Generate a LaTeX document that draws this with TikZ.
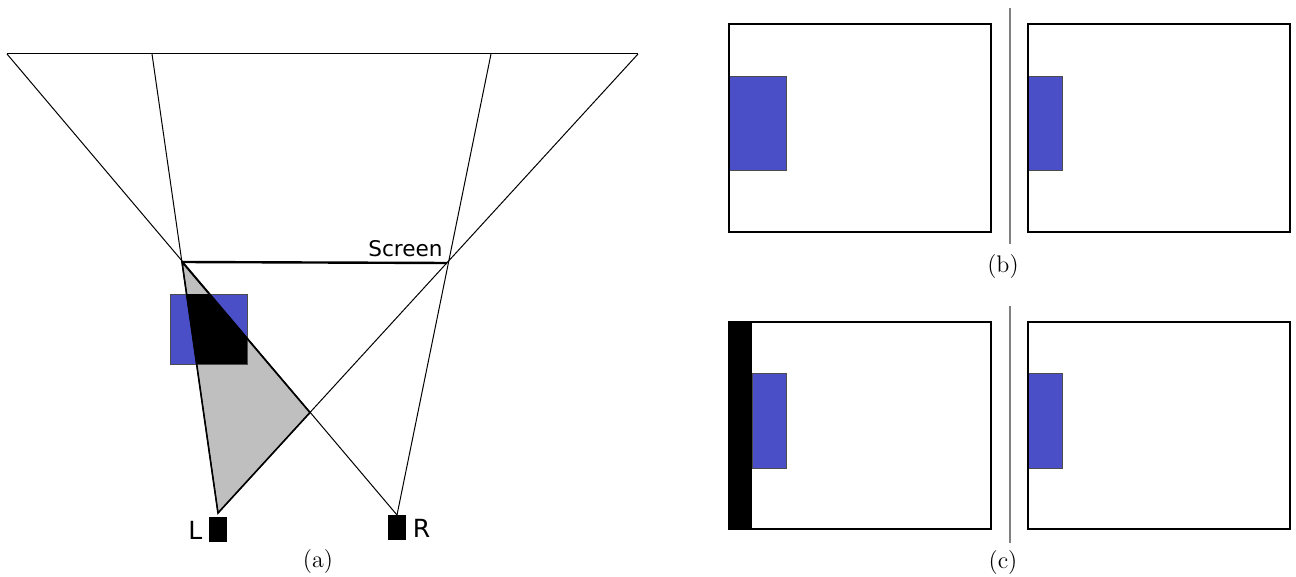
\documentclass[tikz,border=0pt]{standalone}
\usepackage{fontspec}
\newfontfamily\labelfont{DejaVu Sans}
\usetikzlibrary{positioning}
\definecolor{objblue}{RGB}{74,79,199}

\begin{document}
\begin{tikzpicture}[x=0.5pt, y=-0.5pt,
    ray/.style={black, line width=0.5pt},
    frame/.style={draw=black, line width=1pt},
    obj/.style={fill=objblue, draw=black!70, line width=0.4pt},
    eye/.style={fill=black, minimum width=9pt, minimum height=12.5pt, inner sep=0pt},
    eyelabel/.style={inner sep=0pt, font=\labelfont\fontsize{12.5}{15}\selectfont},
    caption/.style={font=\rmfamily\large},
    every node/.style={font=\labelfont\fontsize{10.8}{13}\selectfont}]
    \useasboundingbox (0,0) rectangle (1296,577);

    % Sichtkegel der beiden Augen
    \coordinate (TL) at (7,54);
    \coordinate (IL) at (152,54);
    \coordinate (IR) at (491,54);
    \coordinate (TR) at (638,54);
    \coordinate (SL) at (182,262);
    \coordinate (SR) at (447,263);
    \coordinate (L) at (218,513);
    \coordinate (R) at (397,515);
    \coordinate (X) at (intersection of L--SR and R--SL);

    % Bereich vor dem Screen
    \fill[gray!50] (SL) -- (X) -- (L) -- cycle;

    % Objekt
    \filldraw[obj] (170,294) rectangle (247,364);
    \begin{scope}
        \clip (SL) -- (X) -- (L) -- cycle;
        \fill (170,294) rectangle (247,364);
    \end{scope}

    % Strahlen
    \draw[ray] (TL) -- (TR);
    \draw[ray] (TL) -- (R);
    \draw[ray] (TR) -- (L);
    \draw[ray] (IL) -- (L);
    \draw[ray] (IR) -- (R);
    \draw[line width=0.8pt] (SL) -- (X) -- (L) -- cycle;

    % Screen
    \draw[line width=1.2pt] (SL) -- (SR);
    \node[anchor=base east, inner sep=0pt] (screen) at (443,257) {Screen};

    % Augen
    \node[eye, anchor=north] (eyeL) at (218,517) {};
    \node[eye, anchor=north] (eyeR) at (397,515) {};
    \node[eyelabel, left=3pt of eyeL] (labL) {L};
    \node[eyelabel, right=3pt of eyeR] (labR) {R};
    \node[caption] (capA) at (318,562) {(a)};

    % (b) korrekte Bilder
    \filldraw[obj] (729,76) rectangle (786,170);
    \filldraw[obj] (1028,76) rectangle (1062,170);
    \draw[frame] (729,24) rectangle (991,232);
    \draw[frame] (1028,24) rectangle (1290,232);
    \draw[gray, line width=0.6pt] (1010,8) -- (1010,244);
    \node[caption] (capB) at (1003,267) {(b)};

    % (c) mit Verdeckung am Rand
    \fill (729,322) rectangle (752,529);
    \filldraw[obj] (752,373) rectangle (786,468);
    \filldraw[obj] (1028,373) rectangle (1062,468);
    \draw[frame] (729,322) rectangle (991,529);
    \draw[frame] (1028,322) rectangle (1290,529);
    \draw[gray, line width=0.6pt] (1010,306) -- (1010,543);
    \node[caption] (capC) at (1003,563) {(c)};
\end{tikzpicture}
\end{document}
